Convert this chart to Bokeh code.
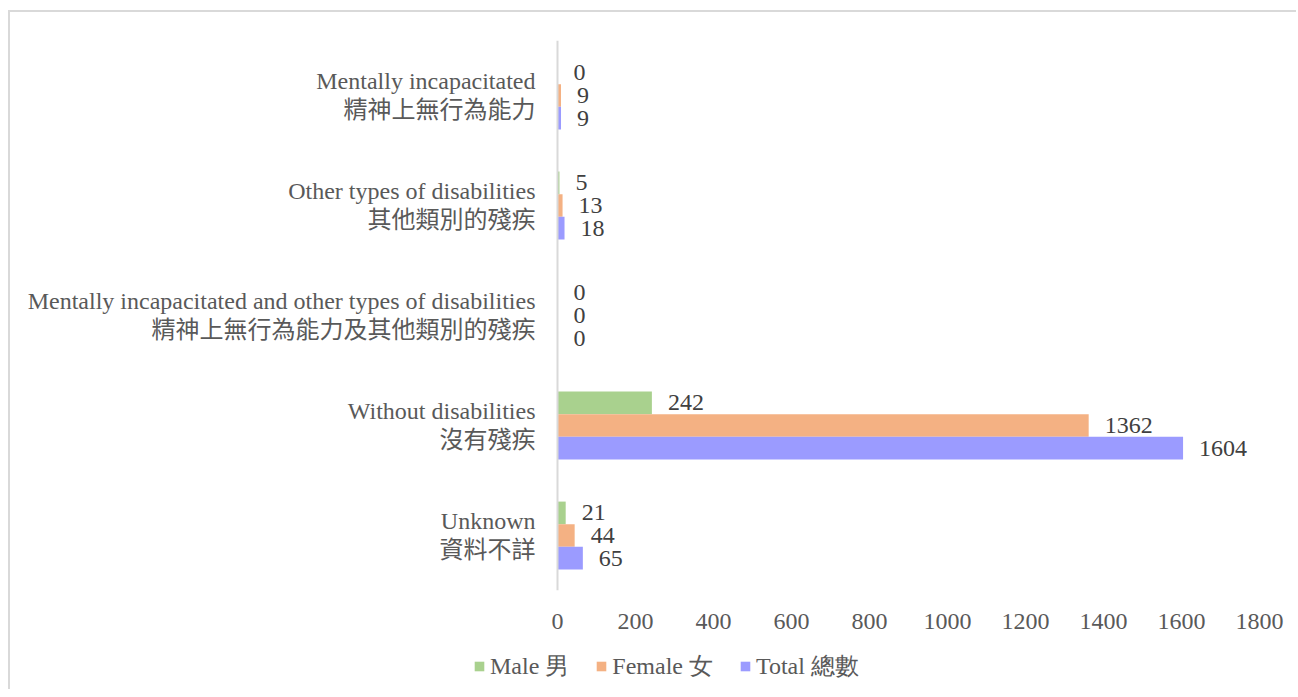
from bokeh.plotting import figure
from bokeh.layouts import column
from bokeh.models import ColumnDataSource, Legend, LegendItem, Span, FixedTicker, Range1d, FactorRange
from bokeh.transform import dodge
from bokeh.core.properties import value
from bokeh.embed import file_html
from bokeh.resources import INLINE

# ---- data ----
categories_en = [
    "Mentally incapacitated",
    "Other types of disabilities",
    "Mentally incapacitated and other types of disabilities",
    "Without disabilities",
    "Unknown",
]
categories_zh = [
    "精神上無行為能力",
    "其他類別的殘疾",
    "精神上無行為能力及其他類別的殘疾",
    "沒有殘疾",
    "資料不詳",
]
male = [0, 5, 0, 242, 21]
female = [9, 13, 0, 1362, 44]
total = [9, 18, 0, 1604, 65]
series_names = ["Male 男", "Female 女", "Total 總數"]
x_ticks = [0, 200, 400, 600, 800, 1000, 1200, 1400, 1600, 1800]

# ---- style / layout ----
SERIF = "Liberation Serif"
CJK = "Noto Sans CJK TC"
LABEL_GRAY = "#595959"
DATA_GRAY = "#404040"
COLORS = ["#a9d18e", "#f4b183", "#9b9bff"]

FW, FH = 1286, 550
zero_px = 547.0          # position of value 0 inside the frame
px_per_unit = 702.0 / 1800.0
x_start = -zero_px / px_per_unit
x_end = (FW - zero_px) / px_per_unit

bar_h = 0.2055

src = ColumnDataSource(dict(
    cat=categories_en,
    zh=categories_zh,
    male=male, female=female, total=total,
    male_lbl=[str(v) for v in male],
    female_lbl=[str(v) for v in female],
    total_lbl=[str(v) for v in total],
))

p = figure(
    frame_width=FW, frame_height=FH,
    x_range=Range1d(x_start, x_end),
    y_range=FactorRange(factors=list(reversed(categories_en))),
    y_axis_location=None,
    toolbar_location=None,
    output_backend="svg",
    min_border_left=0, min_border_right=0, min_border_top=28, min_border_bottom=62,
)
p.outline_line_color = None
p.xgrid.visible = False
p.ygrid.visible = False
p.background_fill_color = "white"
p.border_fill_color = "white"

offsets = [bar_h, 0.0, -bar_h]
fields = ["male", "female", "total"]
for f, off, c in zip(fields, offsets, COLORS):
    p.hbar(y=dodge("cat", off, range=p.y_range), left=0, right=f, height=bar_h,
           source=src, fill_color=c, line_color=None)
    p.text(x=f, y=dodge("cat", off, range=p.y_range), text=f + "_lbl", source=src,
           x_offset=16, text_baseline="middle", text_align="left",
           text_font=value(SERIF), text_font_size="24px", text_color=DATA_GRAY)

# category labels (two lines)
p.text(x=0, y="cat", text="cat", source=src, x_offset=-22, y_offset=-15,
       text_align="right", text_baseline="middle",
       text_font=value(SERIF), text_font_size="24px", text_color=LABEL_GRAY)
p.text(x=0, y="cat", text="zh", source=src, x_offset=-22, y_offset=12,
       text_align="right", text_baseline="middle",
       text_font=value(CJK), text_font_size="24px", text_color=LABEL_GRAY)

p.add_layout(Span(location=0, dimension="height", line_color="#d9d9d9", line_width=2))

ax = p.xaxis[0]
ax.ticker = FixedTicker(ticks=x_ticks)
ax.axis_line_color = None
ax.major_tick_line_color = None
ax.minor_tick_line_color = None
ax.major_label_standoff = 17
ax.major_label_text_font = SERIF
ax.major_label_text_font_size = "24px"
ax.major_label_text_color = LABEL_GRAY

# ---- legend strip below the chart ----
leg = figure(
    width=FW, height=37,
    x_range=Range1d(0, 1), y_range=Range1d(0, 1),
    x_axis_location=None, y_axis_location=None,
    toolbar_location=None, output_backend="svg",
    min_border_left=0, min_border_right=0, min_border_top=0, min_border_bottom=0,
)
leg.outline_line_color = None
leg.xgrid.visible = False
leg.ygrid.visible = False
# zero-width carrier bars: they only give the legend its swatches
leg_renderers = [
    leg.hbar(y=[0], left=[0], right=[0], height=0.0, fill_color=c, line_color=None)
    for c in COLORS
]
legend = Legend(
    items=[LegendItem(label=n, renderers=[r]) for n, r in zip(series_names, leg_renderers)],
    orientation="horizontal", location=(463, 7),
    glyph_width=12, glyph_height=12, label_standoff=5, spacing=26,
    padding=0, margin=0,
    label_text_font=SERIF, label_text_font_size="24px", label_text_color=LABEL_GRAY,
    border_line_color=None, background_fill_alpha=0,
)
leg.add_layout(legend, "center")

layout = column(
    p, leg, spacing=0,
    styles={"margin-left": "8px", "margin-top": "10px",
            "border-top": "2px solid #d9d9d9", "border-left": "2px solid #d9d9d9"},
)

open("out.html", "w").write(file_html(layout, INLINE))
